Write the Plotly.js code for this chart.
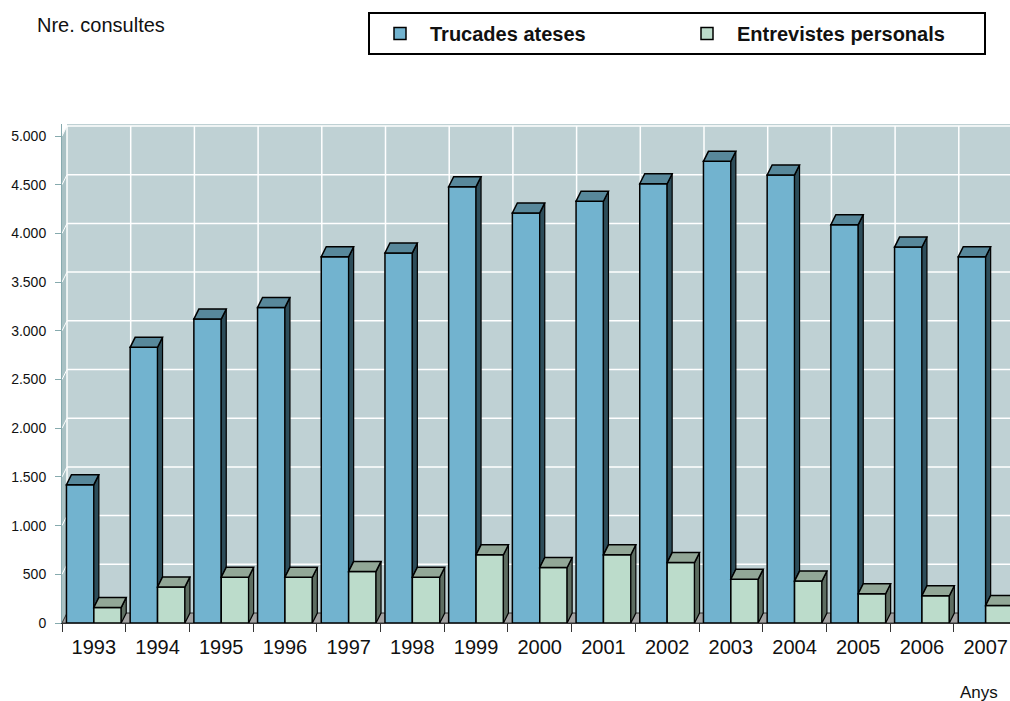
<!DOCTYPE html>
<html>
<head>
<meta charset="utf-8">
<script src="https://cdn.plot.ly/plotly-3.0.1.min.js"></script>
<style>
  html, body { margin: 0; padding: 0; background: #ffffff; }
  #chart { width: 1010px; height: 701px; }
</style>
</head>
<body>
<div id="chart"></div>
<script>
// ---- data ----
const years = ["1993","1994","1995","1996","1997","1998","1999","2000","2001","2002","2003","2004","2005","2006","2007"];
const trucades = [1420, 2830, 3120, 3240, 3760, 3800, 4480, 4210, 4330, 4510, 4740, 4600, 4090, 3860, 3760];
const entrevistes = [160, 370, 470, 470, 530, 470, 700, 570, 700, 620, 450, 430, 300, 280, 180];
const seriesNames = ["Trucades ateses", "Entrevistes personals"];
const yTicks = [0, 500, 1000, 1500, 2000, 2500, 3000, 3500, 4000, 4500, 5000];

// ---- geometry / style ----
const W = 1010, H = 701;
const M = {l: 62, r: 0, t: 124, b: 78};
const plotW = W - M.l - M.r, plotH = H - M.t - M.b;
const catPx = 63.7;
const xr = [-0.5, -0.5 + plotW / catPx];
const yr = [0, 5000 * plotH / 487];
const DX = 5 * (xr[1] - xr[0]) / plotW;     // depth offset in x units
const DY = 10 * (yr[1] - yr[0]) / plotH;    // depth offset in y units
const BARGAP = 0.14;
const HALF = (1 - BARGAP) / 2;

const C = {
  wall: '#bfd1d4', sideWall: '#a9c1c4', floor: '#a3a3a3',
  blue: '#72b3cf', blueTop: '#58889b', blueSide: '#2d4d5a',
  green: '#bcdccb', greenTop: '#92a797', greenSide: '#5d6d61',
  grid: '#ffffff', axisY: '#86aaae'
};

function poly(pts) {
  return 'M' + pts.map(p => p[0] + ',' + p[1]).join('L') + 'Z';
}

const shapes = [];
// side wall (left)
shapes.push({type: 'path', layer: 'below', xref: 'x', yref: 'y', line: {width: 0},
  fillcolor: C.sideWall,
  path: poly([[xr[0], 0], [xr[0], 5000], [xr[0] + DX, 5000 + DY], [xr[0] + DX, DY]])});
// white corner above side wall
shapes.push({type: 'path', layer: 'below', xref: 'x', yref: 'y', line: {width: 0},
  fillcolor: '#ffffff',
  path: poly([[xr[0] - 0.01, 5000], [xr[0] + DX, 5000 + DY], [xr[0] + DX, yr[1] + 50], [xr[0] - 0.01, yr[1] + 50]])});
// floor
shapes.push({type: 'path', layer: 'below', xref: 'x', yref: 'y', line: {width: 1, color: '#333'},
  fillcolor: C.floor,
  path: poly([[xr[0], 0], [xr[1] + 1, 0], [xr[1] + 1 + DX, DY], [xr[0] + DX, DY]])});
// horizontal gridlines on back wall + diagonals on side wall
yTicks.forEach(t => {
  if (t > 0) {
    shapes.push({type: 'line', layer: 'below', xref: 'x', yref: 'y',
      x0: xr[0] + DX, x1: xr[1] + 1, y0: t + DY, y1: t + DY,
      line: {color: C.grid, width: 1.5}});
    shapes.push({type: 'line', layer: 'below', xref: 'x', yref: 'y',
      x0: xr[0], x1: xr[0] + DX, y0: t, y1: t + DY,
      line: {color: C.grid, width: 1}});
  }
});
// vertical gridlines on back wall
years.forEach((y, i) => {
  shapes.push({type: 'line', layer: 'below', xref: 'x', yref: 'y',
    x0: i - 0.5 + DX, x1: i - 0.5 + DX, y0: DY, y1: 5000 + DY,
    line: {color: C.grid, width: 1.5}});
});
// 3D faces of bars
years.forEach((y, i) => {
  const vb = trucades[i], vg = entrevistes[i];
  const bx0 = i - HALF, bx1 = i;
  const gx0 = i, gx1 = i + HALF;
  // blue side (visible part above green bar)
  shapes.push({type: 'path', layer: 'above', xref: 'x', yref: 'y',
    line: {color: '#000', width: 1.2}, fillcolor: C.blueSide,
    path: poly([[bx1, vg], [bx1, vb], [bx1 + DX, vb + DY], [bx1 + DX, vg + DY]])});
  // blue top
  shapes.push({type: 'path', layer: 'above', xref: 'x', yref: 'y',
    line: {color: '#000', width: 1.5}, fillcolor: C.blueTop,
    path: poly([[bx0, vb], [bx1, vb], [bx1 + DX, vb + DY], [bx0 + DX, vb + DY]])});
  // green side
  shapes.push({type: 'path', layer: 'above', xref: 'x', yref: 'y',
    line: {color: '#000', width: 1.2}, fillcolor: C.greenSide,
    path: poly([[gx1, 0], [gx1, vg], [gx1 + DX, vg + DY], [gx1 + DX, DY]])});
  // green top
  shapes.push({type: 'path', layer: 'above', xref: 'x', yref: 'y',
    line: {color: '#000', width: 1.5}, fillcolor: C.greenTop,
    path: poly([[gx0, vg], [gx1, vg], [gx1 + DX, vg + DY], [gx0 + DX, vg + DY]])});
});

const FONT = '"Liberation Sans", Arial, sans-serif';

const traces = [
  {type: 'bar', name: seriesNames[0], x: years, y: trucades,
   marker: {color: C.blue, line: {color: '#000', width: 1.5}}, hoverinfo: 'x+y'},
  {type: 'bar', name: seriesNames[1], x: years, y: entrevistes,
   marker: {color: C.green, line: {color: '#000', width: 1.5}}, hoverinfo: 'x+y'}
];

const layout = {
  width: W, height: H,
  margin: M,
  paper_bgcolor: '#ffffff',
  plot_bgcolor: C.wall,
  separators: ',.',
  barmode: 'group', bargap: BARGAP, bargroupgap: 0,
  font: {family: FONT, color: '#111'},
  showlegend: true,
  legend: {
    orientation: 'h',
    x: (368 - M.l) / plotW, xanchor: 'left',
    y: 1 + (M.t - 12) / plotH, yanchor: 'top',
    bordercolor: '#000', borderwidth: 2, bgcolor: '#ffffff',
    font: {family: FONT, size: 20, weight: 'bold', color: '#111'},
    itemwidth: 50, entrywidth: 242, traceorder: 'normal'
  },
  xaxis: {
    type: 'category', range: xr, fixedrange: true,
    showgrid: false, zeroline: false,
    showline: true, linecolor: '#333', linewidth: 1,
    ticks: 'outside', tickson: 'boundaries', ticklen: 8, tickcolor: '#333',
    ticklabelstandoff: 6,
    tickfont: {family: FONT, size: 20, color: '#111'}
  },
  yaxis: {
    range: yr, fixedrange: true,
    tickvals: yTicks, tickformat: ',d',
    showgrid: false, zeroline: false,
    showline: true, linecolor: C.axisY, linewidth: 1,
    ticks: 'outside', ticklen: 6, tickcolor: C.axisY,
    ticklabelstandoff: 6,
    tickfont: {family: FONT, size: 14, color: '#111'}
  },
  shapes: shapes,
  annotations: [
    {text: 'Nre. consultes', xref: 'paper', yref: 'paper',
     x: (35 - M.l) / plotW, y: 1 + (M.t - 25) / plotH, xanchor: 'left', yanchor: 'middle',
     showarrow: false, font: {family: FONT, size: 20, color: '#111'}},
    {text: 'Anys', xref: 'paper', yref: 'paper',
     x: (1000 - M.l) / plotW, y: -(692 - (H - M.b)) / plotH, xanchor: 'right', yanchor: 'middle',
     showarrow: false, font: {family: FONT, size: 17, color: '#111'}}
  ]
};

Plotly.newPlot('chart', traces, layout, {staticPlot: true, displayModeBar: false});
</script>
</body>
</html>
